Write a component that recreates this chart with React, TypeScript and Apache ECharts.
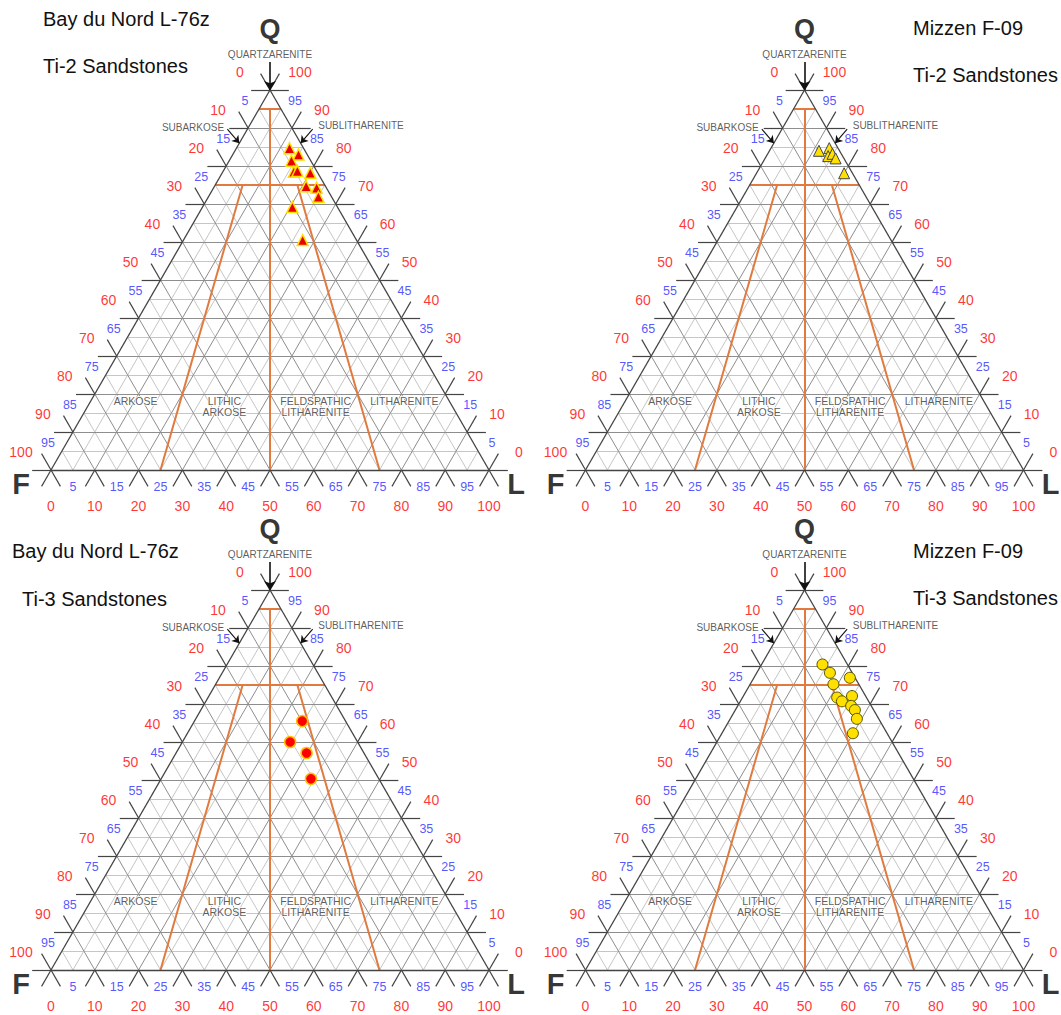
import React, { useEffect, useRef } from "react";
import * as echarts from "echarts";

// ---- Data: sample compositions as [Q, F, L] percentages ----
const ti2BayDuNord = [
  [84.7, 3.2, 12.1], [83.0, 2.0, 15.0], [81.4, 4.4, 14.2], [78.5, 5.3, 16.2],
  [78.7, 4.4, 16.9], [78.2, 1.7, 20.1], [74.7, 4.4, 20.9], [74.3, 2.2, 23.5],
  [71.9, 3.0, 25.1], [69.2, 10.3, 20.5], [60.5, 12.3, 27.2],
];
const ti2Mizzen = [
  [84.0, 4.7, 11.3], [84.7, 2.0, 13.3], [82.6, 3.3, 14.1], [83.2, 2.0, 14.8],
  [82.0, 1.9, 16.1], [78.1, 1.9, 20.0],
];
const ti3BayDuNord = [
  [65.5, 9.9, 24.6], [60.0, 15.4, 24.6], [57.1, 13.1, 29.8], [50.3, 15.5, 34.2],
];
const ti3Mizzen = [
  [80.4, 5.7, 13.9], [78.2, 5.1, 16.7], [76.9, 1.2, 21.9], [75.2, 5.8, 19.0],
  [71.7, 6.7, 21.6], [70.7, 6.1, 23.2], [72.1, 3.1, 24.8], [69.5, 4.6, 25.9],
  [68.4, 4.3, 27.3], [66.1, 5.0, 28.9], [62.3, 7.8, 29.9],
];

// tick labels
const redTicks = [0, 10, 20, 30, 40, 50, 60, 70, 80, 90, 100];
const blueTicks = [5, 15, 25, 35, 45, 55, 65, 75, 85, 95];

// classification (Folk) boundaries
const qBoundaries = [95, 75];
const lfRatios = [25, 50, 75];
const regionNames = ["ARKOSE", "LITHIC\nARKOSE", "FELDSPATHIC\nLITHARENITE", "LITHARENITE"];
const regionRatios = [12.5, 37.5, 62.5, 87.5];

const FONT = "'Liberation Sans', Arial, Helvetica, sans-serif";
const RED = "#FF0000";
const BLUE = "#2A2AFF";
const ORANGE = "#E07A3E";
const DARK = "#444444";

const TRI_W = 438;
const TRI_H = 380;
const EXT = 4.3; // tick extension in %

const panels = [
  { left: 51, top: 90, title: "Bay du Nord L-76z", sub: "Ti-2 Sandstones", tx: 43, ty: 20, sx: 43, sy: 67,
    data: ti2BayDuNord, symbol: "triangle", fill: "#E80000", stroke: "#FFE000", sw: 1.5, size: 11 },
  { left: 585.5, top: 90, title: "Mizzen F-09", sub: "Ti-2 Sandstones", tx: 913, ty: 29, sx: 913, sy: 76,
    data: ti2Mizzen, symbol: "triangle", fill: "#FFE000", stroke: "#444444", sw: 1, size: 11 },
  { left: 51, top: 590, title: "Bay du Nord L-76z", sub: "Ti-3 Sandstones", tx: 12, ty: 552, sx: 22, sy: 600,
    data: ti3BayDuNord, symbol: "circle", fill: "#FF0000", stroke: "#FFC000", sw: 1.5, size: 11 },
  { left: 585.5, top: 590, title: "Mizzen F-09", sub: "Ti-3 Sandstones", tx: 913, ty: 552, sx: 913, sy: 599,
    data: ti3Mizzen, symbol: "circle", fill: "#FFE000", stroke: "#555500", sw: 1, size: 11 },
];

// ternary (Q, F, L) -> cartesian (X, Y) in 0..100 units
function tern(q: number, f: number, l: number): number[] {
  const s = q + f + l;
  return [((l + q / 2) * 100) / s, (q * 100) / s];
}

function seg(a: number[], b: number[]) {
  return { coords: [a, b] };
}

function buildPanelSeries(i: number, p: any) {
  const light: any[] = [];
  const mid: any[] = [];
  const edges: any[] = [];
  const ticks: any[] = [];
  for (let c = 5; c < 100; c += 10) {
    light.push(seg(tern(c, 100 - c, 0), tern(c, 0, 100 - c)));
    light.push(seg(tern(0, 100 - c, c), tern(100 - c, 0, c)));
    light.push(seg(tern(0, c, 100 - c), tern(100 - c, c, 0)));
  }
  for (let c = 10; c < 100; c += 10) {
    mid.push(seg(tern(c, 100 - c, 0), tern(c, 0, 100 - c)));
    mid.push(seg(tern(0, 100 - c, c), tern(100 - c, 0, c)));
    mid.push(seg(tern(0, c, 100 - c), tern(100 - c, c, 0)));
  }
  edges.push(seg(tern(0, 100, 0), tern(0, 0, 100)));
  edges.push(seg(tern(0, 100, 0), tern(100, 0, 0)));
  edges.push(seg(tern(0, 0, 100), tern(100, 0, 0)));
  const e = EXT;
  for (let c = 0; c <= 100; c += 10) {
    ticks.push(seg(tern(c, 100 - c + e, -e), tern(c, 100 - c, 0)));
    ticks.push(seg(tern(c, 0, 100 - c), tern(c, -e, 100 - c + e)));
    ticks.push(seg(tern(-e, 100 - c + e, c), tern(0, 100 - c, c)));
    ticks.push(seg(tern(100 - c, 0, c), tern(100 - c + e, -e, c)));
    ticks.push(seg(tern(-e, c, 100 - c + e), tern(0, c, 100 - c)));
    ticks.push(seg(tern(100 - c, c, 0), tern(100 - c + e, c, -e)));
  }
  const orange: any[] = [];
  const q0 = qBoundaries[0];
  const q1 = qBoundaries[1];
  orange.push(seg(tern(q0, 100 - q0, 0), tern(q0, 0, 100 - q0)));
  orange.push(seg(tern(q1, 100 - q1, 0), tern(q1, 0, 100 - q1)));
  lfRatios.forEach((r) => {
    const qs = r === 50 ? q0 : q1;
    const rest = 100 - qs;
    orange.push(seg(tern(qs, rest * (1 - r / 100), rest * (r / 100)), tern(0, 100 - r, r)));
  });

  const kx = 100 / TRI_W;
  const ky = 100 / TRI_H;
  const apex = tern(100, 0, 0);
  const subA = tern(86, 14, 0);
  const subL = tern(86, 0, 14);
  const arrows = [
    seg([subA[0] - 12 * kx, subA[1] + 14 * ky], subA),
    seg([subL[0] + 12 * kx, subL[1] + 14 * ky], subL),
  ];
  const qArrow = [seg([apex[0], apex[1] + 28 * ky], apex)];

  const base = { xAxisIndex: i, yAxisIndex: i, silent: true };
  const linesS = (data: any[], color: string, width: number, z: number, extra: any = {}) => ({
    ...base,
    type: "lines",
    coordinateSystem: "cartesian2d",
    clip: false,
    z,
    data,
    lineStyle: { color, width, opacity: 1, curveness: 0 },
    ...extra,
  });
  const labelS = (data: any[], label: any, z = 6) => ({
    ...base,
    type: "scatter",
    clip: false,
    symbolSize: 0,
    z,
    itemStyle: { color: "transparent" },
    data,
    label: {
      show: true,
      position: "inside",
      formatter: "{b}",
      fontFamily: FONT,
      align: "center",
      verticalAlign: "middle",
      ...label,
    },
  });

  const top = tern(100, 0, 0);
  const fC = tern(0, 100, 0);
  const lC = tern(0, 0, 100);

  return [
    linesS(light, "#c6c6c6", 1, 1),
    linesS(mid, "#8e8e8e", 1, 2),
    linesS(orange, ORANGE, 2, 3),
    linesS(edges, DARK, 1.3, 4),
    linesS(ticks, DARK, 1.2, 4),
    linesS(arrows, "#111", 1.1, 5, { symbol: ["none", "arrow"], symbolSize: 7 }),
    linesS(qArrow, "#111", 1.6, 5, { symbol: ["none", "arrow"], symbolSize: 9 }),
    labelS(redTicks.map((v) => ({ name: String(v), value: tern(100 - v, v, 0) })),
      { color: RED, fontSize: 14, offset: [-30, -18] }),
    labelS(blueTicks.map((v) => ({ name: String(v), value: tern(100 - v, v, 0) })),
      { color: BLUE, fontSize: 12.5, offset: [-14, -8] }),
    labelS(redTicks.map((v) => ({ name: String(v), value: tern(v, 0, 100 - v) })),
      { color: RED, fontSize: 14, offset: [30, -18] }),
    labelS(blueTicks.map((v) => ({ name: String(v), value: tern(v, 0, 100 - v) })),
      { color: BLUE, fontSize: 12.5, offset: [14, -8] }),
    labelS(redTicks.map((v) => ({ name: String(v), value: tern(0, 100 - v, v) })),
      { color: RED, fontSize: 14, offset: [0, 36] }),
    labelS(blueTicks.map((v) => ({ name: String(v), value: tern(0, 100 - v, v) })),
      { color: BLUE, fontSize: 12.5, offset: [0, 17] }),
    labelS(regionNames.map((n, k) => {
      const q = n.indexOf("\n") >= 0 ? 16.7 : 18.2;
      const r = regionRatios[k] / 100;
      return { name: n, value: tern(q, (100 - q) * (1 - r), (100 - q) * r) };
    }), { color: "#333", fontSize: 10.5, lineHeight: 11, textBorderColor: "#fff", textBorderWidth: 2 }),
    labelS([{ name: "QUARTZARENITE", value: top }], { color: "#333", fontSize: 10, offset: [0, -36] }),
    labelS([{ name: "SUBARKOSE", value: top }], { color: "#333", fontSize: 10, offset: [-77, 37] }),
    labelS([{ name: "SUBLITHARENITE", value: top }], { color: "#333", fontSize: 10, offset: [91, 35] }),
    labelS([{ name: "Q", value: top }], { color: "#000", fontSize: 27, fontWeight: "bold", offset: [0, -61] }),
    labelS([{ name: "F", value: fC }], { color: "#000", fontSize: 29, fontWeight: "bold", offset: [-30, 14] }),
    labelS([{ name: "L", value: lC }], { color: "#000", fontSize: 29, fontWeight: "bold", offset: [27, 14] }),
    {
      ...base,
      type: "scatter",
      clip: false,
      z: 8,
      symbol: p.symbol,
      symbolSize: p.size,
      data: p.data.map((d: number[]) => tern(d[0], d[1], d[2])),
      itemStyle: { color: p.fill, borderColor: p.stroke, borderWidth: p.sw, opacity: 1 },
    },
  ];
}

export default function App() {
  const ref = useRef<HTMLDivElement>(null);
  useEffect(() => {
    if (!ref.current) return;
    const chart = echarts.init(ref.current, undefined, { renderer: "svg" });
    const titles: any[] = [];
    panels.forEach((p) => {
      titles.push({ text: p.title, left: p.tx, top: p.ty - 11, padding: 0,
        textStyle: { fontSize: 20, fontWeight: "normal", color: "#111", fontFamily: FONT } });
      titles.push({ text: p.sub, left: p.sx, top: p.sy - 11, padding: 0,
        textStyle: { fontSize: 20, fontWeight: "normal", color: "#111", fontFamily: FONT } });
    });
    let series: any[] = [];
    panels.forEach((p, i) => {
      series = series.concat(buildPanelSeries(i, p));
    });
    const option: any = {
      animation: false,
      backgroundColor: "#ffffff",
      title: titles,
      tooltip: { show: false },
      grid: panels.map((p) => ({ left: p.left, top: p.top, width: TRI_W, height: TRI_H })),
      xAxis: panels.map((_, i) => ({ type: "value", gridIndex: i, min: 0, max: 100, show: false })),
      yAxis: panels.map((_, i) => ({ type: "value", gridIndex: i, min: 0, max: 100, show: false })),
      series,
    };
    chart.setOption(option);
    return () => chart.dispose();
  }, []);
  return (
    <div
      ref={ref}
      style={{ position: "absolute", left: 0, top: 0, width: 1061, height: 1015, background: "#fff" }}
    />
  );
}
